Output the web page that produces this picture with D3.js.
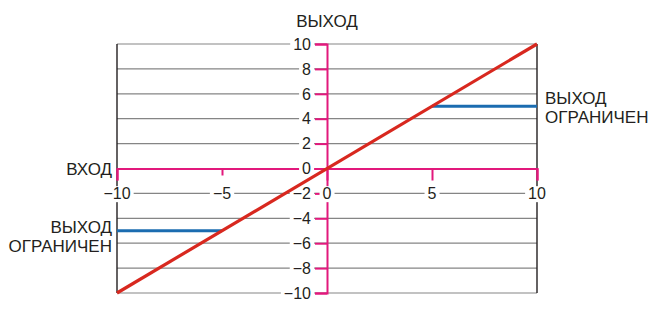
<!DOCTYPE html>
<html lang="ru">
<head>
<meta charset="utf-8">
<title>Ограничение выхода</title>
<script src="https://d3js.org/d3.v7.min.js"></script>
<style>
  body { margin: 0; background: #fff; }
  svg text { font-family: "Liberation Sans", Arial, sans-serif; font-size: 16px; fill: #231f20; }
  svg text.cap { font-size: 17px; }
</style>
</head>
<body>
<div class="chart"></div>
<script>
// data
const xTicks = [-10, -5, 0, 5, 10];
const yTicks = [-10, -8, -6, -4, -2, 0, 2, 4, 6, 8, 10];
const ideal = [[-10, -10], [10, 10]];          // выход = вход
const limitHigh = [[5, 5], [10, 5]];            // ограничение сверху
const limitLow = [[-10, -5], [-5, -5]];         // ограничение снизу

const width = 656, height = 315;
const pink = '#e2197c', red = '#d8281f', blue = '#1b6cb0', grid = '#858585', ink = '#231f20';

const svg = d3.select('.chart').append('svg')
    .attr('width', width)
    .attr('height', height);

const x = d3.scaleLinear().domain([-10, 10]).range([117, 537]);
const y = d3.scaleLinear().domain([-10, 10]).range([293, 44]);

// gridlines
svg.append('g').selectAll('line')
    .data(yTicks.filter(d => d !== 0))
    .join('line')
    .attr('x1', x(-10)).attr('x2', x(10))
    .attr('y1', d => y(d)).attr('y2', d => y(d))
    .attr('stroke', grid).attr('stroke-width', 1.2);

// black frame on both sides
svg.append('g').selectAll('line')
    .data([-10, 10])
    .join('line')
    .attr('x1', d => x(d)).attr('x2', d => x(d))
    .attr('y1', y(10)).attr('y2', y(-10))
    .attr('stroke', ink).attr('stroke-width', 1.4);

// pink axes, lines only
const yAxis = d3.axisLeft(y).tickValues(yTicks).tickSize(12).tickSizeOuter(12).tickFormat('');
const gy = svg.append('g').attr('transform', `translate(${x(0)},0)`).call(yAxis);

const xAxis = d3.axisBottom(x).tickValues(xTicks).tickSize(12).tickSizeOuter(12).tickFormat('');
const gx = svg.append('g').attr('transform', `translate(0,${y(0)})`).call(xAxis);
gx.selectAll('.tick line').filter(d => d === -5).attr('y2', 7);

[gx, gy].forEach(g => {
  g.selectAll('.domain, .tick line').attr('stroke', pink).attr('stroke-width', 2);
});

// tick labels on white patches
const labels = svg.append('g');
labels.selectAll('.ylab')
    .data(yTicks)
    .join('text')
    .attr('class', 'ylab')
    .attr('x', x(0) - 16)
    .attr('y', d => y(d))
    .attr('dy', '0.36em')
    .attr('text-anchor', 'end')
    .text(d3.format('d'));

labels.selectAll('.xlab')
    .data(xTicks)
    .join('text')
    .attr('class', 'xlab')
    .attr('x', d => x(d))
    .attr('y', y(-2))
    .attr('dy', '0.36em')
    .attr('text-anchor', 'middle')
    .text(d3.format('d'));

labels.selectAll('text').each(function() {
  const b = this.getBBox();
  labels.insert('rect', 'text')
      .attr('x', b.x - 3).attr('y', b.y + 1)
      .attr('width', b.width + 6).attr('height', b.height - 1)
      .attr('fill', '#fff');
});

// series
const line = d3.line().x(d => x(d[0])).y(d => y(d[1]));
svg.append('path').datum(limitHigh).attr('d', line)
    .attr('fill', 'none').attr('stroke', blue).attr('stroke-width', 3);
svg.append('path').datum(limitLow).attr('d', line)
    .attr('fill', 'none').attr('stroke', blue).attr('stroke-width', 3);
svg.append('path').datum(ideal).attr('d', line)
    .attr('fill', 'none').attr('stroke', red).attr('stroke-width', 3.2);

// captions
svg.append('text').attr('class', 'cap').attr('x', x(0)).attr('y', 27).attr('text-anchor', 'middle').text('ВЫХОД');
svg.append('text').attr('class', 'cap').attr('x', 112).attr('y', 175).attr('text-anchor', 'end').text('ВХОД');

const capLeft = svg.append('text').attr('class', 'cap').attr('text-anchor', 'end');
capLeft.append('tspan').attr('x', 112).attr('y', 233).text('ВЫХОД');
capLeft.append('tspan').attr('x', 112).attr('y', 252).text('ОГРАНИЧЕН');

const capRight = svg.append('text').attr('class', 'cap');
capRight.append('tspan').attr('x', 545).attr('y', 104).text('ВЫХОД');
capRight.append('tspan').attr('x', 545).attr('y', 123).text('ОГРАНИЧЕН');
</script>
</body>
</html>
